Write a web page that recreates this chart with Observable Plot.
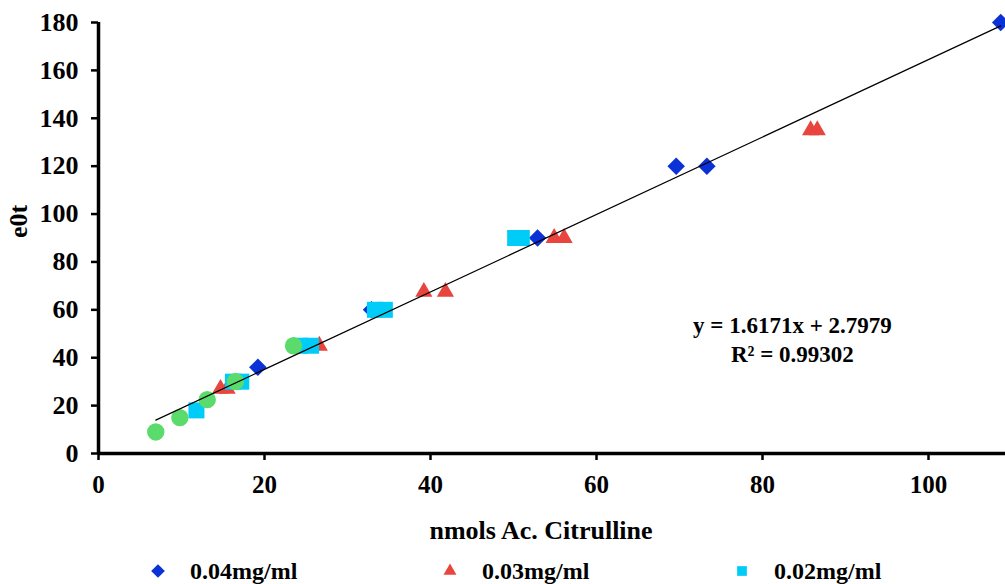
<!DOCTYPE html>
<html>
<head>
<meta charset="utf-8">
<script src="https://cdn.jsdelivr.net/npm/d3@7"></script>
<script src="https://cdn.jsdelivr.net/npm/@observablehq/plot@0.6"></script>
<style>
  html, body { margin: 0; padding: 0; background: #fff; }
  #wrap { position: relative; width: 1005px; height: 584px; overflow: hidden; font-family: "Liberation Serif", "DejaVu Serif", serif; font-weight: bold; }
  #legend { position: absolute; left: 0; top: 556px; width: 1005px; height: 30px; }
  .item { position: absolute; top: 0; display: flex; align-items: center; font-size: 24px; height: 30px; }
  .item svg { margin-right: 24px; }
</style>
</head>
<body>
<div id="wrap"><div id="chart"></div><div id="legend"></div></div>
<script>
// ---- data ----
const seriesNames = ["0.04mg/ml", "0.03mg/ml", "0.02mg/ml", "0.01mg/ml"];
const seriesColors = ["#0b32d6", "#e8453f", "#00cdf7", "#5bdb6b"];
const seriesSymbols = ["diamond2", "triangle2", "square2", "circle"];

const diamondX = [19.2, 32.9, 52.9, 69.6, 73.3, 108.7];
const diamondY = [36, 60, 90, 120, 120, 180];
const triangleX = [14.7, 15.5, 26.6, 39.2, 41.8, 54.9, 56.1, 85.8, 86.6];
const triangleY = [27, 27, 45, 67.5, 67.5, 90, 90, 135, 135];
const squareX = [11.8, 16.2, 17.2, 24.3, 25.6, 33.3, 34.5, 50.2, 51.0];
const squareY = [18, 30, 30, 45, 45, 60, 60, 90, 90];
const circleX = [6.9, 9.8, 13.1, 16.5, 23.5];
const circleY = [9, 15, 22.5, 30, 45];

const slope = 1.6171, intercept = 2.7979, r2 = 0.99302;
const xTicks = [0, 20, 40, 60, 80, 100];
const yTicks = [0, 20, 40, 60, 80, 100, 120, 140, 160, 180];
const xDomain = [0, 110], yDomain = [0, 180];
const eqAnchor = {x: 83.6, y: 48.2};
const xTitle = "nmols Ac. Citrulline", yTitle = "e0t";

// ---- build tables ----
const groups = [[diamondX, diamondY], [triangleX, triangleY], [squareX, squareY], [circleX, circleY]];
const rows = [];
groups.forEach(([xs, ys], s) => xs.forEach((x, i) => rows.push({x, y: ys[i], s})));
const allX = rows.map(d => d.x);
const xmin = d3.min(allX), xmax = d3.max(allX);
const trend = [xmin, xmax].map(x => ({x, y: slope * x + intercept}));

const FONT = "'Liberation Serif', 'DejaVu Serif', serif";
const sizes = [7.9, 8.2, 10.2, 8.7];
const marks = [];
groups.forEach((g, s) => {
  marks.push(Plot.dot(rows.filter(d => d.s === s), {
    x: "x", y: "y", symbol: () => seriesSymbols[s], fill: seriesColors[s], stroke: "none", r: sizes[s]
  }));
});
marks.push(Plot.line(trend, {x: "x", y: "y", stroke: "#000", strokeWidth: 1.2}));
marks.push(Plot.ruleY([0], {stroke: "#000", strokeWidth: 3.5}));
marks.push(Plot.ruleX([0], {stroke: "#000", strokeWidth: 3.5}));
marks.push(Plot.axisX({ticks: xTicks, tickSize: 7, tickPadding: 15, strokeWidth: 2.5, fontSize: 25, fontFamily: FONT, fontWeight: "bold", label: null}));
marks.push(Plot.axisY({ticks: yTicks, tickSize: 7, tickPadding: 13, strokeWidth: 2.5, fontSize: 26, fontFamily: FONT, fontWeight: "bold", label: null}));
marks.push(Plot.text([xTitle], {frameAnchor: "bottom", text: d => d, dy: 77, dx: -11, fontSize: 26, fontFamily: FONT, fontWeight: "bold", lineAnchor: "middle"}));
marks.push(Plot.text([yTitle], {frameAnchor: "left", text: d => d, dx: -80, rotate: -90, fontSize: 26, fontFamily: FONT, fontWeight: "bold", lineAnchor: "middle"}));
marks.push(Plot.text([eqAnchor], {x: "x", y: "y", text: () => `y = ${slope}x + ${intercept}\nR² = ${r2}`, fontSize: 23, fontFamily: FONT, fontWeight: "bold", lineHeight: 1.26, lineAnchor: "middle"}));

const chart = Plot.plot({
  width: 1005,
  height: 550,
  marginLeft: 98,
  marginRight: 0,
  marginTop: 22,
  marginBottom: 97,
  x: {domain: xDomain, range: [98, 1011]},
  y: {domain: yDomain, range: [453, 22]},
  style: {fontFamily: FONT, fontWeight: "bold", color: "#000", background: "#fff", overflow: "visible"},
  marks
});
document.getElementById("chart").appendChild(chart);

// ---- legend (first three series visible, fourth cut off as in reference) ----
const legend = d3.select("#legend");
const legendLeft = [150, 442, 734];
seriesNames.slice(0, 3).forEach((name, i) => {
  const item = legend.append("div").attr("class", "item").style("left", legendLeft[i] + "px");
  const svg = item.append("svg").attr("width", 16).attr("height", 18);
  const sym = {diamond2: d3.symbolDiamond2, triangle2: d3.symbolTriangle2, square2: d3.symbolSquare2, circle: d3.symbolCircle}[seriesSymbols[i]];
  svg.append("path").attr("transform", "translate(8,9)").attr("d", d3.symbol(sym, 120)()).attr("fill", seriesColors[i]);
  item.append("span").text(name);
});
</script>
</body>
</html>
